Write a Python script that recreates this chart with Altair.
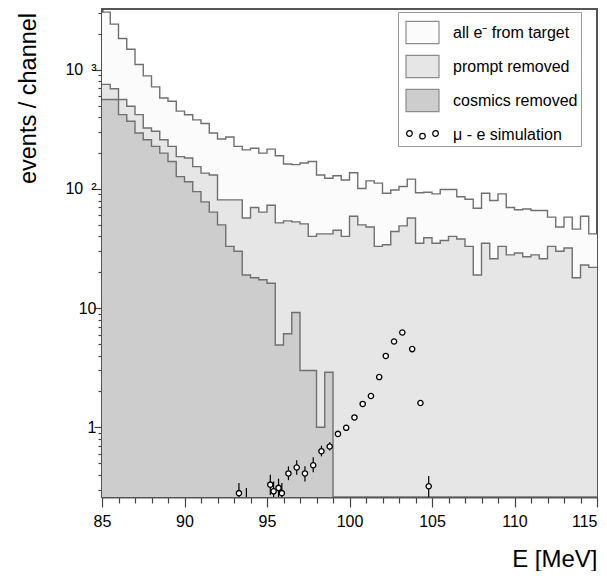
import altair as alt
import pandas as pd

# ---------------- data ----------------
series_names = ["all e⁻ from target", "prompt removed", "cosmics removed", "μ - e simulation"]

# bin left edges, 0.5 MeV channels from 85 to 115 MeV (last entry closes the final bin)
bin_edges = [85.0, 85.5, 86.0, 86.5, 87.0, 87.5, 88.0, 88.5, 89.0, 89.5,
             90.0, 90.5, 91.0, 91.5, 92.0, 92.5, 93.0, 93.5, 94.0, 94.5,
             95.0, 95.5, 96.0, 96.5, 97.0, 97.5, 98.0, 98.5, 99.0, 99.5,
             100.0, 100.5, 101.0, 101.5, 102.0, 102.5, 103.0, 103.5, 104.0, 104.5,
             105.0, 105.5, 106.0, 106.5, 107.0, 107.5, 108.0, 108.5, 109.0, 109.5,
             110.0, 110.5, 111.0, 111.5, 112.0, 112.5, 113.0, 113.5, 114.0, 114.5,
             115.0]

all_e = [3050, 2420, 1830, 1490, 1110, 890, 720, 580, 545, 450,
         420, 380, 355, 295, 263, 273, 228, 213, 220, 200,
         216, 190, 162, 160, 165, 170, 131, 123, 129, 119,
         137, 101, 117, 112, 92, 98, 105, 121, 93, 94,
         91, 99, 99, 86, 82, 69, 92, 80, 91, 70,
         67, 68, 66, 66, 58, 48, 58, 46, 59, 42]

prompt_removed = [755, 694, 564, 495, 421, 325, 305, 259, 228, 187,
                  182, 154, 136, 131, 81, 81, 81, 57, 70, 64,
                  73, 52, 54, 53, 51, 40, 42, 42, 45, 40,
                  59, 50, 48, 33, 34, 44, 49, 57, 35, 39,
                  35, 37, 40, 38, 33, 19, 35, 26, 33, 28,
                  29, 27, 28, 26, 33, 30, 32, 18, 23, 22]

cosmics_removed = [564, 564, 421, 370, 295, 259, 228, 200, 170, 127,
                   115, 95, 78, 64, 50, 33, 30, 19, 18, 17.3,
                   16.2, 4.9, 6.1, 9.2, 3.0, 3.0, 1.0, 2.9, 0, 0,
                   0, 0, 0, 0, 0, 0, 0, 0, 0, 0,
                   0, 0, 0, 0, 0, 0, 0, 0, 0, 0,
                   0, 0, 0, 0, 0, 0, 0, 0, 0, 0]

sim_E = [93.3, 93.75, 95.2, 95.4, 95.7, 95.9, 96.3, 96.8, 97.3, 97.8,
         98.3, 98.8, 99.3, 99.8, 100.3, 100.8, 101.3, 101.8, 102.2, 102.7,
         103.2, 103.8, 104.3, 104.8]
sim_val = [0.28, 0.20, 0.33, 0.29, 0.31, 0.28, 0.41, 0.46, 0.41, 0.48,
           0.63, 0.69, 0.88, 0.99, 1.21, 1.57, 1.83, 2.64, 3.97, 5.25,
           6.25, 4.53, 1.60, 0.32]
sim_lo = [0.22, 0.15, 0.27, 0.23, 0.25, 0.22, 0.36, 0.40, 0.35, 0.42,
          0.57, 0.64, 0.83, 0.94, 1.15, 1.50, 1.76, 2.55, 3.85, 5.10,
          6.10, 4.40, 1.53, 0.26]
sim_hi = [0.34, 0.31, 0.40, 0.35, 0.37, 0.34, 0.47, 0.53, 0.47, 0.56,
          0.70, 0.75, 0.93, 1.04, 1.27, 1.64, 1.90, 2.73, 4.10, 5.40,
          6.40, 4.65, 1.67, 0.39]

x_ticks = [85, 86, 87, 88, 89, 90, 91, 92, 93, 94, 95, 96, 97, 98, 99, 100,
           101, 102, 103, 104, 105, 106, 107, 108, 109, 110, 111, 112, 113, 114, 115]
y_ticks = [0.3, 0.4, 0.5, 0.6, 0.7, 0.8, 0.9,
           1, 2, 3, 4, 5, 6, 7, 8, 9,
           10, 20, 30, 40, 50, 60, 70, 80, 90,
           100, 200, 300, 400, 500, 600, 700, 800, 900,
           1000, 2000, 3000]

Y_MIN, Y_MAX = 0.26, 3240

# ---------------- tables ----------------
rows = []
for name, vals in zip(series_names[:3], [all_e, prompt_removed, cosmics_removed]):
    for i, e in enumerate(bin_edges):
        v = vals[i] if i < len(vals) else vals[-1]
        rows.append({"series": name, "E": e, "n": v})
hist = pd.DataFrame(rows)

sim = pd.DataFrame({"E": sim_E, "v": sim_val, "lo": sim_lo, "hi": sim_hi})

# ---------------- styling ----------------
FONT = "Liberation Sans"
fill_colors = ["#fbfbfb", "#e6e6e6", "#cdcdcd", "#ffffff"]
line_color = "#707070"

xs = alt.Scale(domain=[85, 115], nice=False, zero=False)
ys = alt.Scale(type="log", domain=[Y_MIN, Y_MAX], nice=False)
fill_scale = alt.Scale(domain=series_names, range=fill_colors)

x_axis = alt.Axis(
    values=x_ticks, format="d",
    labelExpr="datum.value % 5 == 0 ? datum.label : ''",
    tickSize={"condition": {"test": "datum.value % 5 == 0", "value": 10}, "value": 6},
    labelAlign={"condition": {"test": "datum.value == 115", "value": "right"}, "value": "center"},
    labelPadding=6, labelFontSize=16, labelOverlap=False, labelFlush=False,
    title="E [MeV]", titleFontSize=24, titleFontWeight="normal",
    titleX=495, titleY=69, titleAlign="right", titleBaseline="alphabetic",
    grid=False,
)
major_test = "datum.value == 1 || datum.value == 10 || datum.value == 100 || datum.value == 1000"
y_axis = alt.Axis(
    values=y_ticks,
    labelExpr=("datum.value == 1000 ? '10\u2002³' : datum.value == 100 ? '10\u2002²' : "
               "datum.value == 10 ? '10\u2002\u2008' : datum.value == 1 ? '1\u2002\u2008' : ''"),
    tickSize={"condition": {"test": major_test, "value": 8}, "value": 4},
    labelPadding=-2, labelFontSize=16, labelOverlap=False, labelFlush=False,
    title="events / channel", titleFontSize=23.5, titleFontWeight="normal",
    titleAngle=270, titleX=-74, titleY=89, titleAlign="center", titleBaseline="middle",
    grid=False,
)

rect_path = "M-1,-0.67H1V0.67H-1Z"
dots_path = ("M-0.62,-0.06A0.17,0.17 0 1,1 -0.96,-0.06A0.17,0.17 0 1,1 -0.62,-0.06Z "
             "M0.17,0.1A0.17,0.17 0 1,1 -0.17,0.1A0.17,0.17 0 1,1 0.17,0.1Z "
             "M0.96,-0.06A0.17,0.17 0 1,1 0.62,-0.06A0.17,0.17 0 1,1 0.96,-0.06Z")
sim_name = series_names[3]
legend = alt.Legend(
    title=None, orient="none", legendX=296, legendY=3, direction="vertical",
    symbolSize=1089, symbolOffset=4, labelOffset=13, rowPadding=3, padding=3,
    strokeColor="#9a9a9a", fillColor="#ffffff",
    labelFont=FONT, labelFontSize=16, labelColor="black", labelLimit=300,
    symbolOpacity=1, symbolStrokeWidth=1.2,
    symbolType=alt.ExprRef(expr=f"datum.value === '{sim_name}' ? '{dots_path}' : '{rect_path}'"),
    symbolStrokeColor=alt.ExprRef(expr=f"datum.value === '{sim_name}' ? '#000000' : '#8c8c8c'"),
)


def area_layer(name):
    return (
        alt.Chart(hist)
        .transform_filter(alt.datum.series == name)
        .transform_calculate(c=f"max(datum.n, {Y_MIN})")
        .mark_area(interpolate="step-after", opacity=1, clip=True)
        .encode(
            x=alt.X("E:Q", scale=xs, axis=x_axis),
            y=alt.Y("c:Q", scale=ys, axis=y_axis),
            y2=alt.datum(Y_MIN),
            fill=alt.Fill("series:N", scale=fill_scale, legend=legend),
        )
    )


def line_layer(name):
    return (
        alt.Chart(hist)
        .transform_filter(alt.datum.series == name)
        .transform_calculate(c=f"max(datum.n, {Y_MIN})")
        .mark_line(interpolate="step-after", color=line_color, strokeWidth=1.4, clip=True)
        .encode(
            x=alt.X("E:Q", scale=xs, axis=x_axis),
            y=alt.Y("c:Q", scale=ys, axis=y_axis),
        )
    )


err = alt.Chart(sim).mark_rule(color="black", strokeWidth=1.2, clip=True).encode(
    x=alt.X("E:Q", scale=xs, axis=x_axis),
    y=alt.Y("lo:Q", scale=ys, axis=y_axis),
    y2="hi:Q",
)
pts = alt.Chart(sim).mark_point(
    shape="circle", size=28, filled=True, fill="white", stroke="black",
    strokeWidth=1.3, opacity=1, clip=True,
).encode(
    x=alt.X("E:Q", scale=xs, axis=x_axis),
    y=alt.Y("v:Q", scale=ys, axis=y_axis),
)

chart = (
    alt.layer(
        area_layer(series_names[0]),
        area_layer(series_names[1]),
        area_layer(series_names[2]),
        line_layer(series_names[0]),
        line_layer(series_names[1]),
        line_layer(series_names[2]),
        err,
        pts,
    )
    .properties(
        width=495, height=488,
        padding={"left": 94, "top": 1, "right": 2, "bottom": 74},
        autosize=alt.AutoSizeParams(type="none"),
        background="white",
    )
    .configure_view(stroke="#555555", strokeWidth=2)
    .configure_axis(
        labelFont=FONT, titleFont=FONT, labelColor="black", titleColor="black",
        domainColor="#555555", domainWidth=2, tickColor="#444444", tickWidth=1.2,
    )
)

chart.save("out.html", embed_options={"renderer": "svg", "actions": False})
